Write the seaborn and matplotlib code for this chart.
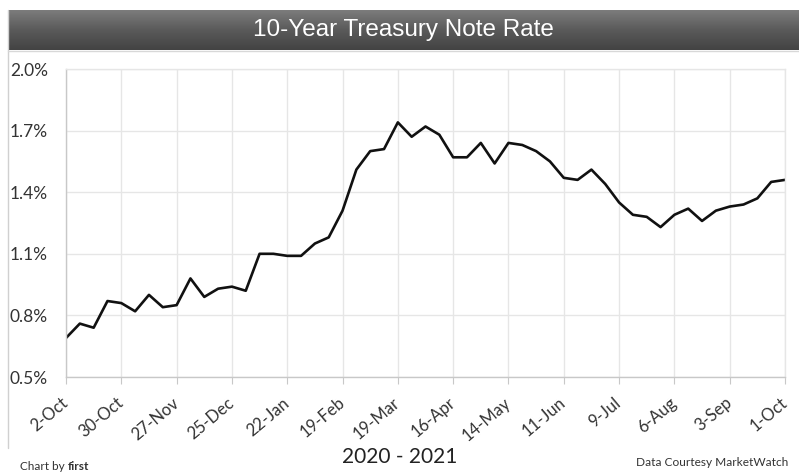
import numpy as np
import pandas as pd
import matplotlib
matplotlib.use("Agg")
import matplotlib.pyplot as plt
import seaborn as sns

# Weekly 10-year Treasury yield, 2-Oct-2020 through 1-Oct-2021 (percent)
rates = [0.69, 0.76, 0.74, 0.87, 0.86, 0.82, 0.90, 0.84, 0.85, 0.98,
         0.89, 0.93, 0.94, 0.92, 1.10, 1.10, 1.09, 1.09, 1.15, 1.18,
         1.31, 1.51, 1.60, 1.61, 1.74, 1.67, 1.72, 1.68, 1.57, 1.57,
         1.64, 1.54, 1.64, 1.63, 1.60, 1.55, 1.47, 1.46, 1.51, 1.44,
         1.35, 1.29, 1.28, 1.23, 1.29, 1.32, 1.26, 1.31, 1.33, 1.34,
         1.37, 1.45, 1.46]
tick_labels = ["2-Oct", "30-Oct", "27-Nov", "25-Dec", "22-Jan", "19-Feb",
               "19-Mar", "16-Apr", "14-May", "11-Jun", "9-Jul", "6-Aug",
               "3-Sep", "1-Oct"]
y_ticks = [0.5, 0.8, 1.1, 1.4, 1.7, 2.0]

title = "10-Year Treasury Note Rate"
x_title = "2020 - 2021"

df = pd.DataFrame({"week": np.arange(len(rates)), "rate": rates})

sns.set_theme(style="white")
plt.rcParams["font.family"] = ["Lato", "DejaVu Sans"]

W, H = 799, 472
fig = plt.figure(figsize=(W / 100, H / 100), dpi=100)
fig.patch.set_facecolor("white")

# outer frame line on the left
fig.add_artist(plt.Line2D([8 / W, 8 / W], [1 - 10 / H, 1 - 448 / H],
                          transform=fig.transFigure, color="#d0d0d0", lw=1))

# title banner with vertical gradient
bar = fig.add_axes([8 / W, 1 - 50 / H, (W - 8) / W, 40 / H])
grad = np.linspace(0, 1, 100).reshape(-1, 1)
cmap = matplotlib.colors.LinearSegmentedColormap.from_list(
    "bar", ["#7c7c7c", "#5a5a5a", "#434343"])
bar.imshow(grad, aspect="auto", cmap=cmap, extent=[0, 1, 0, 1], origin="upper")
bar.set_axis_off()
bar.text(0.5, 0.5, title, color="white", ha="center", va="center",
         fontsize=17.5, family=["Liberation Sans", "DejaVu Sans"])
fig.add_artist(plt.Line2D([8 / W, 1], [1 - 51 / H, 1 - 51 / H],
                          transform=fig.transFigure, color="#d8d8d8", lw=1))

# main plot
ax = fig.add_axes([66 / W, 1 - 377 / H, (785 - 66) / W, (377 - 69) / H])
sns.lineplot(data=df, x="week", y="rate", ax=ax, color="#111111",
             linewidth=1.9)

ax.set_xlim(0, len(rates) - 1)
ax.set_ylim(0.5, 2.0)
tick_pos = np.arange(0, len(rates), 4)
ax.set_xticks(tick_pos)
ax.set_xticklabels(tick_labels, rotation=40, ha="right", va="center",
                   rotation_mode="anchor", fontsize=12, color="#333333")
ax.set_yticks(y_ticks)
ax.set_yticklabels([f"{v:.1f}%" for v in y_ticks], fontsize=12.5,
                   color="#333333")
ax.tick_params(axis="y", length=0, pad=13)
ax.tick_params(axis="x", length=5, width=0.8, color="#c8c8c8",
               direction="out", pad=12, bottom=True)
ax.grid(True, color="#e6e6e6", linewidth=1)
ax.set_xlabel("")
ax.set_ylabel("")
for side in ["top", "right"]:
    ax.spines[side].set_color("#e6e6e6")
for side in ["left", "bottom"]:
    ax.spines[side].set_color("#c8c8c8")
for s in ax.spines.values():
    s.set_linewidth(1)

fig.text(0.5, 1 - 457 / H, x_title, ha="center", va="center",
         fontsize=15, color="#222222")

# footer credits
credit = fig.text(20 / W, 1 - 466 / H, "Chart by ", ha="left", va="center",
                  fontsize=8.5, color="#333333")
fig.canvas.draw()
bb = credit.get_window_extent()
fig.text(bb.x1 / W, 1 - 466 / H, "first", ha="left", va="center",
         fontsize=8.5, color="#333333", fontweight="bold")
fig.text(788 / W, 1 - 463 / H, "Data Courtesy MarketWatch", ha="right",
         va="center", fontsize=8.6, color="#333333")

fig.savefig("out.png", dpi=100, facecolor="white")
